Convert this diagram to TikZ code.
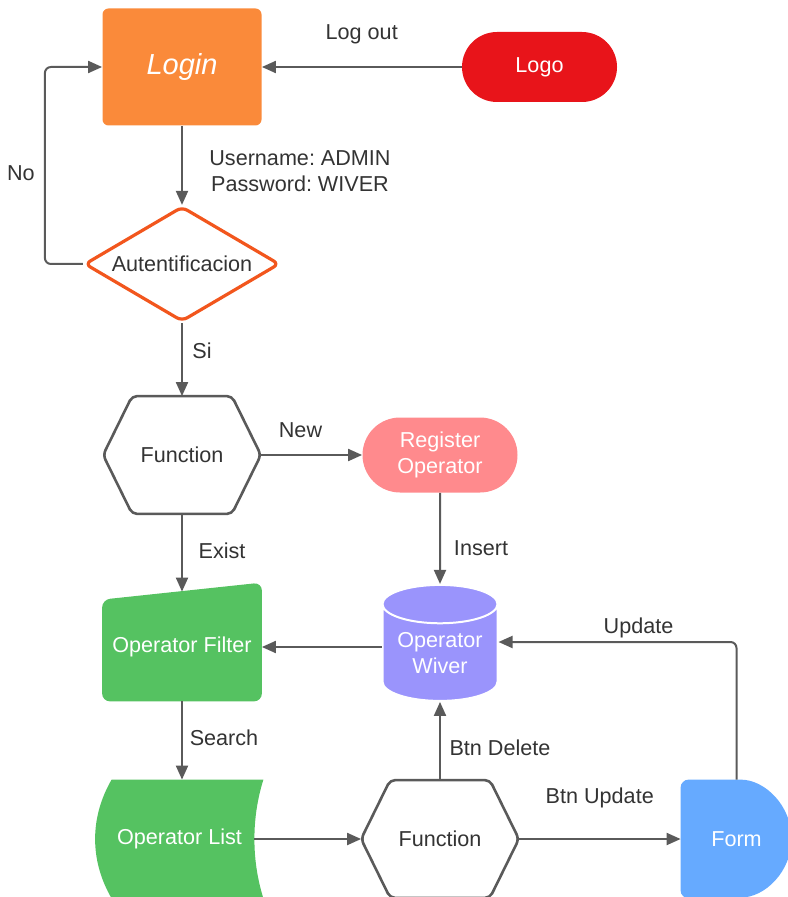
\documentclass[tikz,border=0pt]{standalone}
\usepackage{fontspec}
\setmainfont{Liberation Sans}
\frenchspacing
\usetikzlibrary{arrows.meta,shapes.geometric,backgrounds}

\definecolor{loginorange}{HTML}{FA8A3A}
\definecolor{logored}{HTML}{E8141A}
\definecolor{authred}{HTML}{F2561D}
\definecolor{regpink}{HTML}{FF8A8D}
\definecolor{opgreen}{HTML}{55C261}
\definecolor{wivpurple}{HTML}{9A94FC}
\definecolor{formblue}{HTML}{66AAFF}
\definecolor{linegray}{HTML}{5A5A5A}
\definecolor{labelgray}{HTML}{333333}

\tikzset{
  base/.style={font=\fontsize{10.8}{13}\selectfont, text=white, align=center, inner sep=0pt},
  loginbox/.style={base, fill=loginorange, rounded corners=3pt, minimum width=79.5pt, minimum height=58.5pt, font=\fontsize{14.5}{17}\selectfont\itshape},
  pill/.style={base, rounded corners=#1, minimum width=77.5pt, minimum height=2*#1},
  authbox/.style={base, text=labelgray, diamond, aspect=1.7, draw=authred, line width=1.6pt, rounded corners=3pt, fill=white, minimum width=97.5pt, minimum height=57.5pt},
  hexbox/.style={base, text=labelgray, minimum width=78.5pt, minimum height=58.5pt},
  hexline/.style={draw=linegray, line width=1.3pt, rounded corners=2.5pt},
  databox/.style={base, cylinder, shape border rotate=90, aspect=0.45, fill=wivpurple, draw=white, line width=1pt, minimum width=57.5pt, minimum height=58pt},
  flow/.style={draw=linegray, line width=1pt, -{Triangle[length=7pt,width=6pt]}},
  lbl/.style={font=\fontsize{10.8}{13}\selectfont, text=labelgray, align=center, inner sep=0pt}
}

\begin{document}
\begin{tikzpicture}[x=0.5pt, y=-0.5pt]
  \useasboundingbox (0,0) rectangle (787,897);

  % shapes
  \node[loginbox] (login) at (182,67) {Login};
  \node[pill=17.5pt, fill=logored] (logo) at (539.5,67) {Logo};
  \node[authbox] (auth) at (182,264) {Autentificacion};
  \node[hexbox] (fn1) at (182,455) {Function};
  \node[pill=18.75pt, fill=regpink] (reg) at (440,455) {Register\\Operator};
  \node[base, minimum width=79.5pt, minimum height=54.5pt] (flt) at (182,646.5) {Operator Filter};
  \node[databox] (wiv) at (440,653) {Operator\\Wiver};
  \node[base, minimum width=83.5pt, minimum height=59pt] (lst) at (179.5,839) {Operator List};
  \node[hexbox] (fn2) at (440,839) {Function};
  \node[base, minimum width=55.5pt, minimum height=59pt] (frm) at (736.5,839) {Form};

  \foreach \n in {fn1,fn2}
    \draw[hexline] (\n.west) -- ([xshift=14.5pt]\n.north west) -- ([xshift=-14.5pt]\n.north east)
      -- (\n.east) -- ([xshift=-14.5pt]\n.south east) -- ([xshift=14.5pt]\n.south west) -- cycle;

  \begin{scope}[on background layer]
    \fill[opgreen, rounded corners=4pt] ([yshift=-4pt]flt.north west) -- ([yshift=4.5pt]flt.north east)
      -- (flt.south east) -- (flt.south west) -- cycle;
    \fill[opgreen] ([xshift=8pt]lst.north west) -- (lst.north east)
      .. controls +(-6pt,-19pt) and +(-6pt,19pt) .. (lst.south east)
      -- ([xshift=8pt]lst.south west)
      .. controls +(-11pt,19pt) and +(-11pt,-19pt) .. ([xshift=8pt]lst.north west) -- cycle;
    \fill[formblue, rounded corners=4pt] (frm.north west) -- ([xshift=26pt]frm.north west)
      arc[start angle=90, end angle=-90, radius=29.5pt] -- (frm.south west) -- cycle;
  \end{scope}

  % connectors
  \draw[flow] (logo) -- node[lbl, yshift=16.5pt] {Log out} (login);
  \draw[flow] (login) -- node[lbl, xshift=59pt, yshift=-2.75pt] {Username: ADMIN\\Password: WIVER} (auth);
  \draw[flow, rounded corners=3pt] (auth.west) -- ++(-38,0) |- node[lbl, pos=0.25, xshift=-12pt, yshift=-3.75pt] {No} (login.west);
  \draw[flow] (auth) -- node[lbl, xshift=10pt, yshift=4.25pt] {Si} (fn1);
  \draw[flow] (fn1) -- node[lbl, xshift=-5.5pt, yshift=12.5pt] {New} (reg);
  \draw[flow] (fn1) -- node[lbl, xshift=20pt, yshift=1pt] {Exist} (flt);
  \draw[flow] (reg) -- node[lbl, xshift=20.5pt, yshift=-5pt] {Insert} (wiv);
  \draw[flow] ([yshift=3pt]wiv.west) -- ([yshift=3pt]wiv.west -| flt.east);
  \draw[flow] (flt.south) -- node[lbl, xshift=21pt, yshift=1.25pt] {Search} (flt.south |- lst.north);
  \draw[flow] ([xshift=-4.5pt]lst.east) -- (fn2);
  \draw[flow] (fn2) -- node[lbl, xshift=30pt, yshift=-3.5pt] {Btn Delete} (wiv);
  \draw[flow] (fn2) -- node[lbl, yshift=20.5pt] {Btn Update} (frm);
  \draw[flow, rounded corners=3pt] (frm.north) |- node[lbl, pos=0.75, xshift=10.5pt, yshift=7pt] {Update} ([yshift=5.5pt]wiv.east);
\end{tikzpicture}
\end{document}
